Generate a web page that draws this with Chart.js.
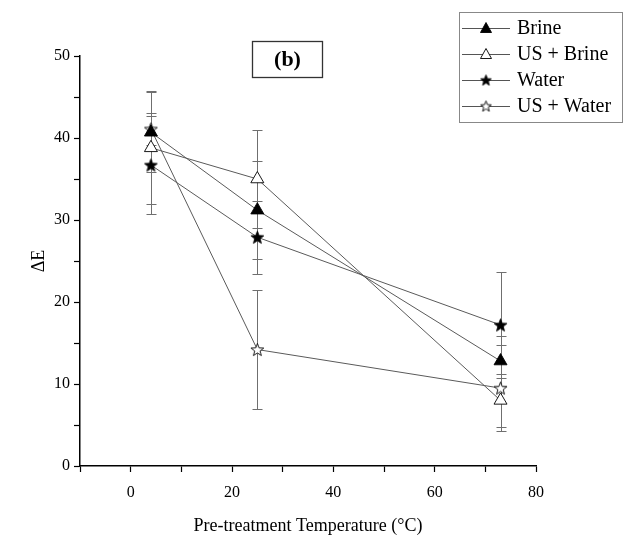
<!DOCTYPE html>
<html>
<head>
<meta charset="utf-8">
<script src="https://cdn.jsdelivr.net/npm/chart.js"></script>
<style>
  html, body { margin: 0; padding: 0; background: #fff; }
  #wrap { width: 640px; height: 539px; }
</style>
</head>
<body>
<div id="wrap"><canvas id="deltaE" width="640" height="539"></canvas></div>
<script>
// ---------------- data ----------------
var temps = [4, 25, 73];

var brine      = [40.7, 31.2, 12.8];
var brineErr   = [4.9, 6.0, 3.0];
var usBrine    = [38.8, 35.0, 8.0];
var usBrineErr = [6.9, 6.0, 3.2];
var water      = [36.7, 27.9, 17.2];
var waterErr   = [6.0, 4.45, 6.5];
var usWater    = [41.1, 14.2, 9.5];
var usWaterErr = [1.9, 7.3, 5.2];

var seriesNames = ['Brine', 'US + Brine', 'Water', 'US + Water'];
var xTicksShown = [0, 20, 40, 60, 80];
var yTicksShown = [0, 10, 20, 30, 40, 50];

var serif = "'Liberation Serif', 'Times New Roman', serif";

// five pointed star markers (Chart.js 'star' is an asterisk)
function makeStar(filled, size) {
    var c = document.createElement('canvas');
    c.width = size; c.height = size;
    var g = c.getContext('2d');
    var cx = size / 2, cy = size / 2 + 0.6;
    var ro = size / 2 - 0.8, ri = ro * 0.42;
    g.beginPath();
    for (var k = 0; k < 10; k++) {
        var r = (k % 2) ? ri : ro;
        var a = -Math.PI / 2 + k * Math.PI / 5;
        var px = cx + r * Math.cos(a), py = cy + r * Math.sin(a);
        if (k === 0) g.moveTo(px, py); else g.lineTo(px, py);
    }
    g.closePath();
    g.fillStyle = filled ? '#000' : '#fff';
    g.fill();
    g.strokeStyle = '#000';
    g.lineWidth = 0.9;
    g.stroke();
    return c;
}
var starFull = makeStar(true, 15);
var starOpen = makeStar(false, 15);
var starFullSmall = makeStar(true, 13);
var starOpenSmall = makeStar(false, 13);

function pts(ys) {
    return temps.map(function(t, i) { return {x: t, y: ys[i]}; });
}

var errs = [brineErr, usBrineErr, waterErr, usWaterErr];

// error bars drawn through the chart scales
var errorBars = {
    id: 'errorBars',
    beforeDatasetsDraw: function(chart) {
        var ctx = chart.ctx, xs = chart.scales.x, ys = chart.scales.y;
        ctx.save();
        ctx.strokeStyle = '#6f6f6f';
        ctx.lineWidth = 1;
        chart.data.datasets.forEach(function(ds, i) {
            ds.data.forEach(function(p, j) {
                var e = errs[i][j];
                var x = Math.round(xs.getPixelForValue(p.x)) + 0.5;
                var yt = Math.round(ys.getPixelForValue(p.y + e)) + 0.5;
                var yb = Math.round(ys.getPixelForValue(p.y - e)) + 0.5;
                ctx.beginPath();
                ctx.moveTo(x, yt); ctx.lineTo(x, yb);
                ctx.moveTo(x - 5, yt); ctx.lineTo(x + 5, yt);
                ctx.moveTo(x - 5, yb); ctx.lineTo(x + 5, yb);
                ctx.stroke();
            });
        });
        ctx.restore();
    }
};

// legend box in the top right and the "(b)" label
var decorations = {
    id: 'decorations',
    afterDraw: function(chart) {
        var ctx = chart.ctx;
        ctx.save();
        // (b) box
        ctx.strokeStyle = '#333';
        ctx.lineWidth = 1.3;
        ctx.strokeRect(252.5, 41.5, 70, 36);
        ctx.fillStyle = '#000';
        ctx.font = 'bold 22px ' + serif;
        ctx.textAlign = 'center';
        ctx.textBaseline = 'middle';
        ctx.fillText('(b)', 287.5, 60);

        // legend
        ctx.fillStyle = '#fff';
        ctx.fillRect(459, 12, 164, 111);
        ctx.strokeStyle = '#888';
        ctx.lineWidth = 1;
        ctx.strokeRect(459.5, 12.5, 163, 110);
        var rows = [28, 54, 80, 106];
        ctx.font = '20px ' + serif;
        ctx.textAlign = 'left';
        for (var i = 0; i < seriesNames.length; i++) {
            var y = rows[i];
            ctx.strokeStyle = '#555';
            ctx.lineWidth = 1;
            ctx.beginPath();
            ctx.moveTo(462, y + 0.5); ctx.lineTo(510, y + 0.5);
            ctx.stroke();
            if (i < 2) {
                ctx.beginPath();
                ctx.moveTo(486, y - 5.5);
                ctx.lineTo(491.5, y + 4.5);
                ctx.lineTo(480.5, y + 4.5);
                ctx.closePath();
                ctx.fillStyle = i === 0 ? '#000' : '#fff';
                ctx.fill();
                ctx.strokeStyle = '#000';
                ctx.lineWidth = 0.9;
                ctx.stroke();
            } else {
                var img = i === 2 ? starFullSmall : starOpenSmall;
                ctx.drawImage(img, 486 - 6.5, y - 6.5);
            }
            ctx.fillStyle = '#000';
            ctx.fillText(seriesNames[i], 517, y + 1);
        }
        ctx.restore();
    }
};

function lineSet(label, ys, style, fill) {
    return {
        label: label,
        data: pts(ys),
        borderColor: '#5a5a5a',
        borderWidth: 1,
        pointStyle: style,
        pointRadius: 7.5,
        pointHoverRadius: 7.5,
        pointBackgroundColor: fill,
        pointBorderColor: '#000',
        pointBorderWidth: 0.9,
        fill: false,
        tension: 0
    };
}

var ctx1 = document.getElementById('deltaE');
var deltaEChart = new Chart(ctx1, {
    type: 'line',
    data: {
        datasets: [
            lineSet('Brine', brine, 'triangle', '#000'),
            lineSet('US + Brine', usBrine, 'triangle', '#fff'),
            lineSet('Water', water, starFull, '#000'),
            lineSet('US + Water', usWater, starOpen, '#fff')
        ]
    },
    options: {
        responsive: false,
        animation: false,
        events: [],
        layout: { padding: { top: 56, right: 104, left: 28, bottom: 0 } },
        plugins: {
            legend: { display: false },
            tooltip: { enabled: false }
        },
        scales: {
            x: {
                type: 'linear',
                min: -10,
                max: 80,
                afterFit: function(s) { s.height = 73; },
                ticks: {
                    stepSize: 10,
                    color: '#000',
                    font: { family: serif, size: 16 },
                    padding: 11,
                    maxRotation: 0,
                    callback: function(v) { return xTicksShown.indexOf(v) >= 0 ? v : ''; }
                },
                grid: {
                    drawOnChartArea: false,
                    tickLength: 6,
                    tickColor: '#000',
                    tickWidth: 1.2
                },
                border: { color: '#000', width: 1.5 },
                title: {
                    display: true,
                    text: 'Pre-treatment Temperature (°C)',
                    color: '#000',
                    font: { family: serif, size: 18 },
                    padding: { top: 8, bottom: 2 }
                }
            },
            y: {
                min: 0,
                max: 50,
                afterFit: function(s) { s.width = 52; },
                ticks: {
                    stepSize: 5,
                    color: '#000',
                    font: { family: serif, size: 16 },
                    padding: 4,
                    callback: function(v) { return yTicksShown.indexOf(v) >= 0 ? v : ''; }
                },
                grid: {
                    drawOnChartArea: false,
                    tickLength: 6,
                    tickColor: '#000',
                    tickWidth: 1.2
                },
                border: { color: '#000', width: 1.5 },
                title: {
                    display: true,
                    text: 'ΔE',
                    color: '#000',
                    font: { family: serif, size: 18 },
                    padding: { top: 0, bottom: 0 }
                }
            }
        }
    },
    plugins: [errorBars, decorations]
});
</script>
</body>
</html>
